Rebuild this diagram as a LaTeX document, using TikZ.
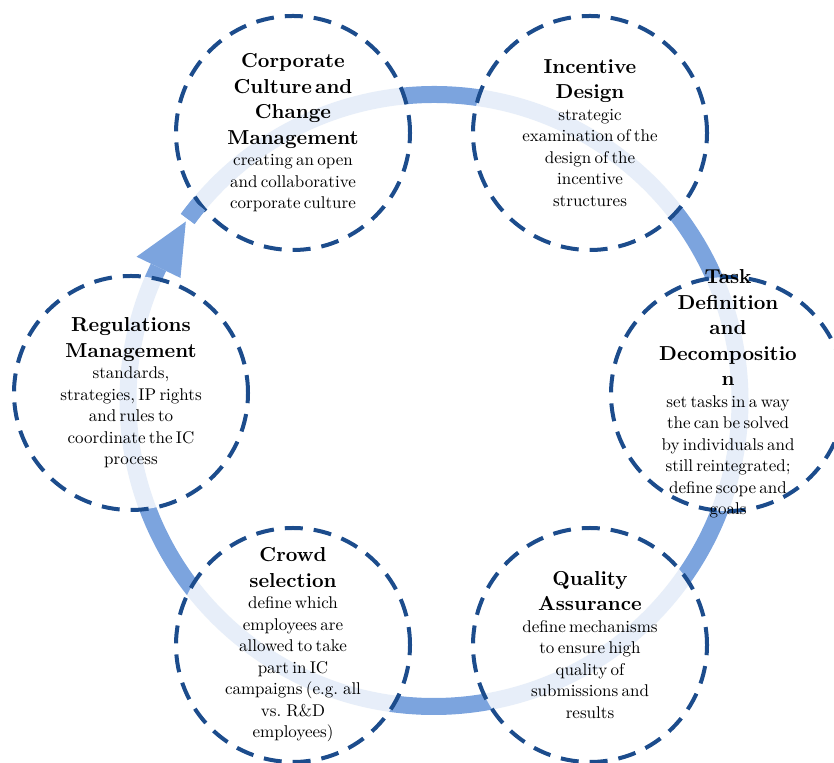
\documentclass[tikz,border=0pt]{standalone}
\usepackage{fontspec}
\setmainfont{lmroman10}[Extension=.otf, UprightFont=*-regular, BoldFont=*-bold, ItalicFont=*-italic, BoldItalicFont=*-bolditalic]
\definecolor{bandblue}{RGB}{124,164,222}
\definecolor{ringblue}{RGB}{28,76,140}
\newcommand{\ttlf}{\fontsize{20.2}{25.5}\selectfont\bfseries}
\newcommand{\bdyf}{\fontsize{17}{21.5}\selectfont\mdseries}
\tikzset{
  stage/.style={circle, minimum size=234pt, inner sep=0pt, draw=ringblue,
    line width=4pt, dash pattern=on 18pt off 11pt, fill=white, fill opacity=0.82, draw opacity=1},
  stagetext/.style={text width=240pt, align=center, inner sep=0pt, text=black,
    execute at begin node={\parindent0pt\parskip0pt}},
  bandline/.style={draw=bandblue, line width=17pt}
}
\begin{document}
\begin{tikzpicture}[x=1pt,y=1pt]
\useasboundingbox (0,0) rectangle (834,762);
% ring band
\begin{scope}[shift={(434,361.5)}]
  \draw[bandline] (143.6:306) arc[start angle=143.6, end angle=-205.8, radius=306];
\end{scope}
% circles
\node[stage] (corp) at (293,629) {};
\node[stage] (inc) at (590,629) {};
\node[stage] (task) at (728,368) {};
\node[stage] (qual) at (590,117) {};
\node[stage] (crowd) at (293,117) {};
\node[stage] (reg) at (131,369) {};
% arrow head and square
\begin{scope}[shift={(434,361.5)}]
  \draw[bandline] (140.3:306) arc[start angle=140.3, end angle=143.6, radius=306];
  \fill[bandblue] (154.2:281.6) -- (154.2:330.4) -- (144.2:306) -- cycle;
\end{scope}
% texts
\node[stagetext] (tcorp) at (corp.center) {\ttlf Corporate\\Culture and\\Change\\Management\par
  \bdyf creating an open\\and collaborative\\corporate culture\par};
\node[stagetext] (tinc) at (inc.center) {\ttlf Incentive\\Design\par
  \bdyf strategic\\examination of the\\design of the\\incentive\\structures\par};
\node[stagetext] (ttask) at (task.center) {\ttlf Task\\Definition\\and\\Decompositio\\n\par
  \bdyf set tasks in a way\\the can be solved\\by individuals and\\still reintegrated;\\define scope and\\goals\par};
\node[stagetext] (tqual) at (qual.center) {\ttlf Quality\\Assurance\par
  \bdyf define mechanisms\\to ensure high\\quality of\\submissions and\\results\par};
\node[stagetext] (tcrowd) at (crowd.center) {\ttlf Crowd\\selection\par
  \bdyf define which\\employees are\\allowed to take\\part in IC\\campaigns (e.g. all\\vs. R\&D\\employees)\par};
\node[stagetext] (treg) at (reg.center) {\ttlf Regulations\\Management\par
  \bdyf standards,\\strategies, IP rights\\and rules to\\coordinate the IC\\process\par};
\end{tikzpicture}
\end{document}
